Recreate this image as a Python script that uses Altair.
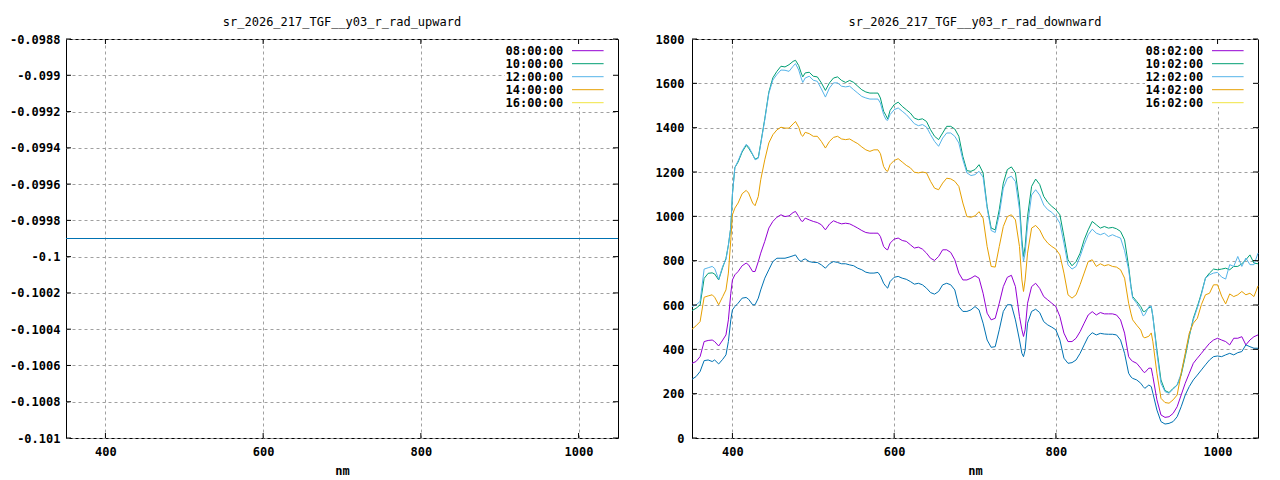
import altair as alt
import pandas as pd

# ---------------- data ----------------
nm = [350, 355, 360, 365, 370, 375, 378, 383, 388, 392, 395, 398, 400,
      403, 407, 412, 417, 420, 425, 428, 432, 435, 440, 445, 450,
      455, 460, 465, 470, 475, 478, 482, 485, 487, 490, 495, 500,
      505, 510, 515, 520, 525, 530, 535, 540, 545, 550, 555, 560,
      565, 570, 575, 580, 583, 587, 590, 592, 595, 600, 605, 610,
      615, 620, 625, 630, 635, 640, 645, 650, 655, 660, 665, 670,
      675, 680, 685, 690, 695, 700, 705, 710, 715, 720, 725, 730,
      735, 740, 745, 750, 755, 758, 760, 762, 765, 770, 775, 780,
      785, 790, 795, 800, 805, 810, 815, 820, 825, 830, 835, 840,
      845, 850, 855, 860, 865, 870, 875, 880, 885, 890, 893, 895,
      900, 905, 908, 910, 915, 918, 920, 925, 930, 935, 940, 945,
      950, 955, 960, 965, 970, 975, 980, 985, 990, 995, 1000, 1005,
      1010, 1015, 1020, 1025, 1030, 1035, 1040, 1045, 1050]

d0802 = [337, 345, 367, 435, 440, 442, 435, 415, 442, 465, 533, 653, 713,
         736, 751, 777, 789, 781, 751, 751, 796, 834, 887, 947, 977,
         996, 1007, 999, 1002, 1017, 1022, 999, 980, 977, 992, 984, 977,
         972, 962, 939, 965, 980, 972, 966, 969, 966, 957, 947, 936,
         927, 924, 924, 924, 909, 864, 852, 849, 879, 897, 902, 891,
         887, 872, 857, 861, 852, 834, 811, 801, 819, 849, 849, 837,
         804, 744, 713, 713, 721, 732, 721, 653, 563, 533, 540, 608,
         683, 725, 734, 683, 548, 488, 458, 488, 608, 683, 698, 675,
         638, 623, 608, 593, 548, 473, 435, 435, 450, 480, 518, 555,
         570, 555, 566, 560, 560, 560, 555, 533, 473, 367, 352, 346,
         337, 315, 300, 295, 315, 315, 277, 172, 104, 93, 96, 111,
         141, 194, 247, 292, 337, 360, 382, 405, 427, 442, 450, 442,
         435, 420, 450, 450, 457, 420, 442, 457, 465]

d1002 = [575, 585, 600, 720, 743, 745, 740, 713, 770, 810, 870, 950, 1100,
         1220, 1245, 1290, 1320, 1308, 1278, 1258, 1265, 1330, 1440, 1560, 1625,
         1654, 1677, 1674, 1684, 1699, 1704, 1680, 1647, 1629, 1647, 1650, 1632,
         1629, 1602, 1568, 1602, 1624, 1629, 1613, 1604, 1613, 1604, 1587, 1571,
         1561, 1556, 1556, 1556, 1534, 1474, 1454, 1439, 1478, 1504, 1515, 1496,
         1481, 1466, 1443, 1436, 1440, 1428, 1391, 1361, 1346, 1376, 1406, 1406,
         1394, 1361, 1270, 1206, 1203, 1211, 1233, 1196, 1045, 947, 939, 1030,
         1150, 1211, 1223, 1196, 1060, 894, 819, 864, 999, 1135, 1168, 1144,
         1090, 1063, 1045, 1030, 1007, 909, 804, 777, 796, 834, 894, 939,
         977, 962, 947, 954, 947, 950, 944, 932, 894, 774, 683, 638,
         616, 593, 571, 571, 587, 592, 548, 397, 262, 214, 205, 224,
         239, 284, 367, 458, 540, 593, 653, 721, 744, 762, 759, 762,
         766, 759, 774, 774, 786, 804, 826, 789, 786]

d1202 = [593, 600, 616, 762, 768, 774, 765, 716, 775, 805, 870, 950, 1100,
         1220, 1250, 1295, 1325, 1315, 1280, 1255, 1262, 1325, 1435, 1555, 1615,
         1640, 1660, 1659, 1654, 1677, 1689, 1660, 1624, 1604, 1624, 1632, 1614,
         1609, 1575, 1538, 1579, 1602, 1602, 1587, 1584, 1587, 1571, 1556, 1541,
         1534, 1529, 1529, 1529, 1511, 1459, 1436, 1433, 1459, 1481, 1489, 1474,
         1459, 1439, 1418, 1409, 1414, 1403, 1369, 1338, 1316, 1353, 1376, 1376,
         1361, 1331, 1255, 1196, 1184, 1188, 1203, 1177, 1037, 936, 927, 1007,
         1127, 1172, 1181, 1157, 1030, 864, 797, 834, 960, 1096, 1120, 1096,
         1051, 1030, 1018, 999, 969, 879, 781, 762, 774, 819, 872, 917,
         942, 924, 917, 924, 909, 917, 909, 902, 845, 759, 676, 631,
         608, 578, 551, 556, 592, 595, 548, 382, 247, 209, 202, 220,
         239, 292, 375, 464, 533, 587, 647, 721, 736, 744, 747, 726,
         717, 782, 774, 819, 774, 812, 782, 782, 834]

d1402 = [491, 506, 525, 635, 641, 646, 635, 601, 638, 668, 744, 894, 1007,
         1037, 1060, 1102, 1117, 1105, 1060, 1048, 1090, 1165, 1255, 1331, 1368,
         1390, 1402, 1398, 1398, 1417, 1428, 1402, 1368, 1361, 1379, 1373, 1361,
         1361, 1338, 1308, 1338, 1356, 1361, 1349, 1346, 1349, 1338, 1328, 1313,
         1300, 1293, 1300, 1300, 1283, 1225, 1207, 1203, 1233, 1252, 1260, 1245,
         1230, 1219, 1199, 1196, 1200, 1196, 1158, 1127, 1120, 1150, 1172, 1169,
         1158, 1135, 1060, 999, 996, 1002, 1021, 992, 864, 774, 771, 864,
         954, 999, 1007, 984, 864, 713, 661, 713, 834, 947, 959, 939,
         902, 879, 864, 852, 826, 744, 646, 631, 646, 692, 744, 796,
         804, 774, 786, 777, 782, 774, 771, 759, 721, 608, 560, 533,
         509, 487, 456, 452, 459, 474, 434, 292, 179, 160, 157, 172,
         194, 292, 382, 473, 518, 540, 602, 646, 653, 691, 691, 640,
         605, 650, 638, 646, 661, 646, 653, 638, 686]

d1602 = [265, 277, 300, 349, 352, 345, 352, 334, 355, 375, 435, 533, 578,
         593, 608, 631, 634, 626, 601, 601, 631, 668, 721, 759, 796,
         811, 811, 811, 816, 822, 826, 804, 796, 804, 808, 796, 792,
         792, 781, 766, 786, 796, 792, 786, 786, 781, 777, 766, 759,
         748, 744, 744, 747, 732, 698, 683, 676, 706, 725, 729, 721,
         716, 706, 694, 698, 691, 676, 656, 649, 661, 691, 698, 691,
         668, 593, 571, 571, 578, 593, 578, 518, 442, 409, 412, 488,
         571, 601, 601, 533, 442, 382, 367, 397, 518, 571, 581, 566,
         525, 510, 500, 488, 442, 360, 337, 340, 352, 382, 420, 457,
         475, 465, 472, 469, 468, 468, 465, 442, 382, 292, 275, 269,
         262, 247, 232, 224, 239, 232, 202, 126, 74, 63, 66, 74,
         96, 141, 194, 232, 262, 284, 307, 330, 352, 367, 370, 367,
         375, 382, 375, 385, 390, 420, 412, 405, 405]

up_nm = [350, 1050]
u0800 = [-0.0999, -0.0999]
u1000 = [-0.0999, -0.0999]
u1200 = [-0.0999, -0.0999]
u1400 = [-0.0999, -0.0999]
u1600 = [-0.0999, -0.0999]

up_labels = ["08:00:00", "10:00:00", "12:00:00", "14:00:00", "16:00:00"]
down_labels = ["08:02:00", "10:02:00", "12:02:00", "14:02:00", "16:02:00"]

line_colors = ["#9400d3", "#009e73", "#56b4e9", "#e69f00", "#0072b2"]
key_colors = ["#9400d3", "#009e73", "#56b4e9", "#e69f00", "#f0e442"]

x_ticks = [400, 600, 800, 1000]
up_y_ticks = [-0.0988, -0.099, -0.0992, -0.0994, -0.0996, -0.0998, -0.1,
              -0.1002, -0.1004, -0.1006, -0.1008, -0.101]
down_y_ticks = [0, 200, 400, 600, 800, 1000, 1200, 1400, 1600, 1800]

FONT = "DejaVu Sans Mono"
GRID = "#a0a0a0"
H = 399


def make_panel(title, xs, series, labels, yticks, ydom, W, ypad):
    x_enc = alt.X(
        "nm:Q",
        scale=alt.Scale(domain=[350, 1050], nice=False, zero=False),
        axis=alt.Axis(values=x_ticks, format="d", title="nm", grid=True,
                      ticks=False, domain=False, gridColor=GRID, gridDash=[3, 3],
                      gridOpacity=1, labelFont=FONT, labelFontSize=12,
                      labelFontWeight="bold", labelColor="black", labelPadding=8,
                      labelFlush=False, titleFont=FONT, titleFontSize=12,
                      titleFontWeight="bold", titleColor="black", titlePadding=8),
    )
    y_enc = alt.Y(
        "val:Q",
        scale=alt.Scale(domain=ydom, nice=False, zero=False),
        axis=alt.Axis(values=yticks, labelExpr="toString(datum.value)", title=None,
                      grid=True, ticks=False, domain=False, gridColor=GRID,
                      gridDash=[3, 3], gridOpacity=1, labelFont=FONT,
                      labelFontSize=12, labelFontWeight="bold", labelColor="black",
                      labelPadding=ypad, labelFlush=False, labelOverlap=False),
    )
    layers = []
    one = pd.DataFrame({"k": [0]})
    # opaque key box
    layers.append(alt.Chart(one).mark_rect(color="white").encode(
        x=alt.value(W - 113), x2=alt.value(W - 1), y=alt.value(1), y2=alt.value(68)))
    # data lines
    for i, vals in enumerate(series):
        df = pd.DataFrame({"nm": xs, "val": vals})
        layers.append(alt.Chart(df).mark_line(color=line_colors[i], strokeWidth=1)
                      .encode(x=x_enc, y=y_enc))
    # inward ticks
    xt = pd.DataFrame({"nm": x_ticks})
    yt = pd.DataFrame({"val": yticks})
    layers.append(alt.Chart(xt).mark_rule(color="black").encode(
        x=x_enc, y=alt.value(H), y2=alt.value(H - 5)))
    layers.append(alt.Chart(xt).mark_rule(color="black").encode(
        x=x_enc, y=alt.value(0), y2=alt.value(5)))
    layers.append(alt.Chart(yt).mark_rule(color="black").encode(
        y=y_enc, x=alt.value(0), x2=alt.value(5)))
    layers.append(alt.Chart(yt).mark_rule(color="black").encode(
        y=y_enc, x=alt.value(W - 5), x2=alt.value(W)))
    # key
    for i, lab in enumerate(labels):
        yy = 11.7 + 13 * i
        layers.append(alt.Chart(pd.DataFrame({"label": [lab]})).mark_text(
            align="right", baseline="middle", font=FONT, fontSize=12,
            fontWeight="bold", color="black").encode(
            x=alt.value(W - 54.7), y=alt.value(yy), text="label:N"))
        layers.append(alt.Chart(one).mark_rule(color=key_colors[i], strokeWidth=1).encode(
            x=alt.value(W - 46), x2=alt.value(W - 14.4), y=alt.value(yy)))
    return alt.layer(*layers).properties(
        width=W, height=H,
        title=alt.TitleParams(title, font=FONT, fontSize=12, fontWeight="normal",
                              color="black", offset=4, anchor="middle"))


left = make_panel("sr_2026_217_TGF__y03_r_rad_upward", up_nm,
                  [u0800, u1000, u1200, u1400, u1600], up_labels,
                  up_y_ticks, [-0.101, -0.0988], 552, 6)
right = make_panel("sr_2026_217_TGF__y03_r_rad_downward", nm,
                   [d0802, d1002, d1202, d1402, d1602], down_labels,
                   down_y_ticks, [0, 1800], 566, 8)

chart = alt.hconcat(left, right, spacing=33).properties(
    padding={"left": 0, "top": 7, "right": 0, "bottom": 0},
    background="white",
).configure_view(stroke="black", strokeWidth=1)

chart.save("out.html", embed_options={"renderer": "svg", "actions": False})
